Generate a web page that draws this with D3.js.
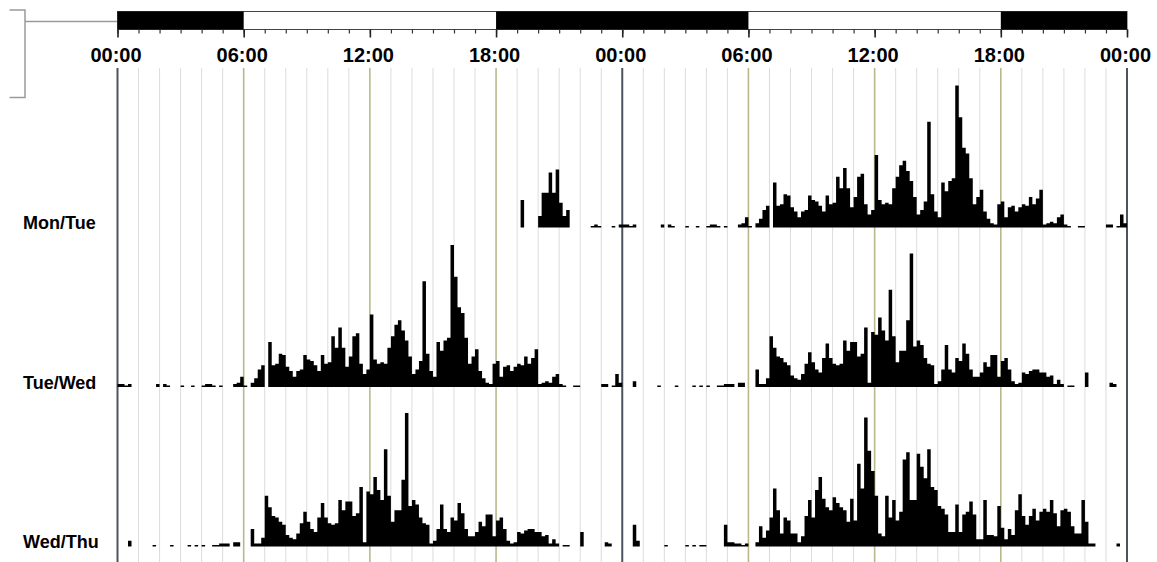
<!DOCTYPE html>
<html>
<head>
<meta charset="utf-8">
<script src="https://cdn.jsdelivr.net/npm/d3@7"></script>
<style>
  body { margin: 0; background: #fff; }
  svg { display: block; }
  text { font-family: "Liberation Sans", Arial, Helvetica, sans-serif; font-weight: bold; fill: #000; }
</style>
</head>
<body>
<svg id="chart" width="1157" height="562"></svg>
<script>
// Activity counts per 10-minute bin, 144 bins per day (00:00 -> 24:00)
const mon = [
  0,0,0,0,0,0,0,0,0,0,0,0,
  0,0,0,0,0,0,0,0,0,0,0,0,
  0,0,0,0,0,0,0,0,0,0,0,0,
  0,0,0,0,0,0,0,0,0,0,0,0,
  0,0,0,0,0,0,0,0,0,0,0,0,
  0,0,0,0,0,0,0,0,0,0,0,0,
  0,0,0,0,0,0,0,0,0,0,0,0,
  0,0,0,0,0,0,0,0,0,0,0,0,
  0,0,0,0,0,0,0,0,0,0,0,0,
  0,0,0,0,0,0,0,19,0,0,0,0,
  8,24,24,38,24,40,17,8,12,0,0,0,
  0,0,0,1,2,1,0,0,0,1,0,2
];
const tue = [
  2,2,1,2,0,0,0,0,0,0,0,2,
  0,2,1,0,0,0,1,0,0,1,0,0,
  1,2,2,1,0,1,0,0,0,2,3,7,
  1,0,3,6,12,15,0,31,15,16,23,22,
  14,11,7,11,12,22,19,18,15,11,22,16,
  17,35,27,41,27,14,21,35,37,16,9,12,
  50,19,16,17,16,27,35,43,46,39,32,21,
  9,12,18,73,23,11,7,31,25,32,34,98,
  76,55,51,34,16,21,26,11,6,3,2,16,
  18,7,14,15,11,14,16,15,21,16,20,26,
  2,3,4,3,7,9,2,1,0,0,1,1,
  0,0,0,0,0,0,2,2,0,1,9,3
];
const wed = [
  0,0,0,4,0,0,0,0,0,0,1,0,
  0,0,0,1,0,0,0,0,1,0,1,0,
  1,0,0,1,1,2,2,2,0,3,3,0,
  0,0,12,2,2,6,35,27,21,20,17,15,
  8,6,5,9,16,24,17,12,10,20,30,20,
  16,15,16,32,25,31,31,21,23,41,3,38,
  36,48,39,32,67,35,17,25,25,46,92,28,
  32,29,20,16,15,2,4,12,29,12,10,20,
  18,30,23,12,7,7,10,17,14,22,22,7,
  18,20,12,4,2,3,10,9,11,12,12,10,
  10,7,8,2,5,2,0,1,1,0,0,0,
  10,0,0,0,0,0,0,3,2,0,0,0
];
const thu = [
  0,0,0,15,4,0,0,0,0,0,0,0,
  1,0,0,0,0,0,1,0,1,0,1,1,
  0,0,0,0,0,15,3,3,2,2,1,2,
  0,0,3,14,6,11,20,40,25,9,20,18,
  9,9,3,7,21,32,20,39,48,33,27,25,
  34,30,27,25,17,33,18,57,40,89,66,52,
  35,9,7,35,20,32,18,24,60,65,32,32,
  64,55,47,67,41,39,28,26,22,10,10,29,
  10,22,24,31,22,5,5,32,8,8,7,28,
  13,5,12,8,25,36,21,15,21,26,18,24,
  26,24,32,23,14,25,26,24,14,9,9,32,
  17,2,2,0,0,0,0,0,0,2,0,0
];

const rowLabels = ["Mon/Tue", "Tue/Wed", "Wed/Thu"];
const tickLabels = ["00:00", "06:00", "12:00", "18:00", "00:00", "06:00", "12:00", "18:00", "00:00"];
// dark (lights-off) periods on the 48-hour double plot, in hours
const darkPeriods = [[0, 6], [18, 30], [42, 48]];
const rowDays = [[mon, tue], [tue, wed], [wed, thu]];
const binsPerHour = 6;

const svg = d3.select("#chart");
const x = d3.scaleLinear().domain([0, 48]).range([117.5, 1127]);
const h = d3.scaleLinear().domain([0, 100]).range([0, 145]);
const rowBase = d3.scalePoint().domain(rowLabels).range([227.5, 546.5]);

// hour grid
const grid = svg.append("g");
grid.selectAll("line")
  .data(d3.range(0, 49))
  .join("line")
  .attr("x1", d => x(d)).attr("x2", d => x(d))
  .attr("y1", 68).attr("y2", 562)
  .attr("stroke", d => d % 24 === 0 ? "#4d5260" : d % 6 === 0 ? "#b9b98c" : "#dcdcdc")
  .attr("stroke-width", d => d % 24 === 0 ? 2 : d % 6 === 0 ? 1.6 : 1);

// light/dark bar
const barTop = 11.5, barBottom = 29.5;
svg.append("rect")
  .attr("x", x(0)).attr("y", barTop)
  .attr("width", x(48) - x(0)).attr("height", barBottom - barTop)
  .attr("fill", "#fff").attr("stroke", "#444").attr("stroke-width", 1);
svg.append("g").selectAll("rect")
  .data(darkPeriods)
  .join("rect")
  .attr("x", d => x(d[0])).attr("y", barTop)
  .attr("width", d => x(d[1]) - x(d[0])).attr("height", barBottom - barTop)
  .attr("fill", "#000");

// hour ticks and time labels under the bar
const minorAxis = d3.axisBottom(x).tickValues(d3.range(0, 49)).tickSize(4).tickFormat("");
const minorG = svg.append("g").attr("transform", `translate(0,${barBottom})`).call(minorAxis);
minorG.select(".domain").remove();
minorG.selectAll(".tick line").attr("stroke", "#333").attr("stroke-width", 1.2);

const majorAxis = d3.axisBottom(x).tickValues(d3.range(0, 49, 6))
  .tickSize(8).tickPadding(10).tickFormat((d, i) => tickLabels[i]);
const majorG = svg.append("g").attr("transform", `translate(0,${barBottom})`).call(majorAxis);
majorG.select(".domain").remove();
majorG.selectAll(".tick line").attr("stroke", "#222").attr("stroke-width", 1.6);
majorG.selectAll(".tick text")
  .attr("x", -2)
  .style("font-size", "20px")
  .style("font-family", "'Liberation Sans', Arial, sans-serif")
  .style("font-weight", "bold")
  .attr("fill", "#000");

// bracket at top-left
svg.append("path")
  .attr("d", "M9.5,10 H25 V97.5 H9.5 M25,21.5 H117")
  .attr("fill", "none").attr("stroke", "#9a9a9a").attr("stroke-width", 1.5);

// row labels
svg.append("g").selectAll("text")
  .data(rowLabels)
  .join("text")
  .attr("x", 23)
  .attr("y", d => rowBase(d) + 1.8)
  .style("font-size", "18px")
  .text(d => d);

// activity histograms: each row shows two consecutive days
const plot = svg.append("g");
rowLabels.forEach((label, r) => {
  const base = rowBase(label);
  const area = d3.area()
    .curve(d3.curveStepAfter)
    .x(d => x(d.t))
    .y0(base)
    .y1(d => base - h(d.v));
  rowDays[r].forEach((day, j) => {
    const offset = 24 * j;
    const pts = day.map((v, k) => ({ t: offset + k / binsPerHour, v }));
    pts.push({ t: offset + 24, v: day[day.length - 1] });
    plot.append("path")
      .datum(pts)
      .attr("d", area)
      .attr("fill", "#000");
  });
});
</script>
</body>
</html>
